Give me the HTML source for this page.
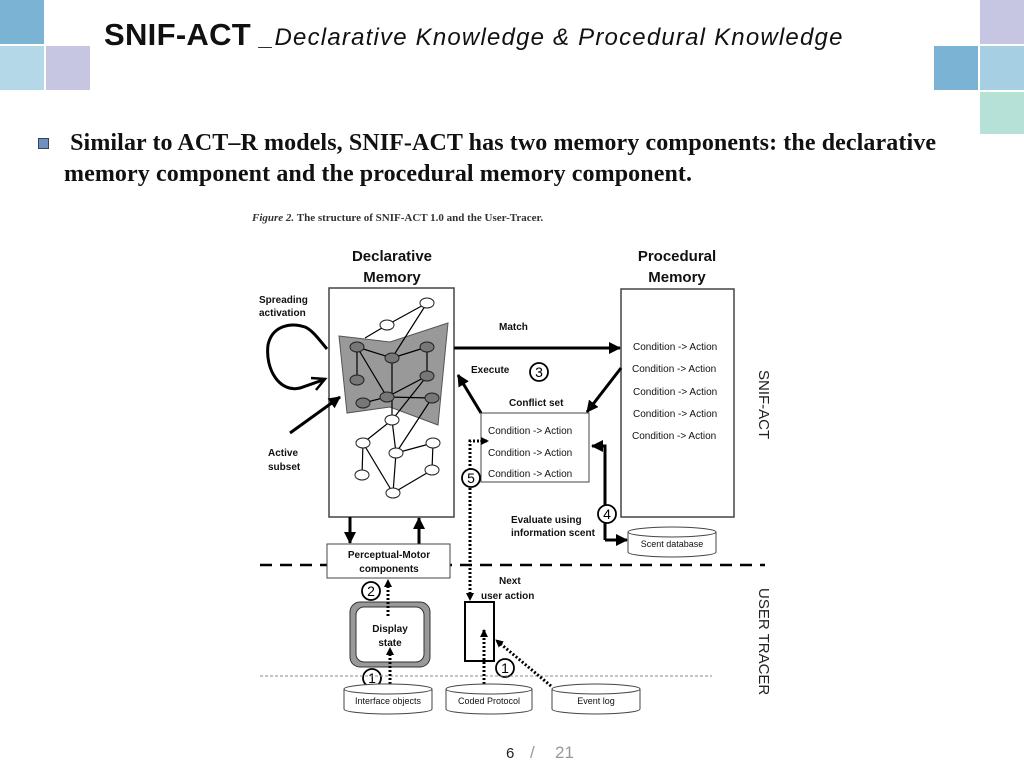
<!DOCTYPE html>
<html><head><meta charset="utf-8"><style>
body{margin:0;width:1024px;height:768px;background:#fff;overflow:hidden;position:relative;font-family:"Liberation Sans",sans-serif}
.sq{position:absolute;width:44px;height:44px}
</style></head><body>
<div class="sq" style="left:0;top:0;background:#7ab3d3"></div>
<div class="sq" style="left:0;top:46px;background:#b5d8e8"></div>
<div class="sq" style="left:46px;top:46px;background:#c6c6e3"></div>
<div class="sq" style="left:980px;top:0;background:#c6c6e3"></div>
<div class="sq" style="left:934px;top:46px;background:#7ab3d3"></div>
<div class="sq" style="left:980px;top:46px;background:#a6cfe3"></div>
<div class="sq" style="left:980px;top:92px;background:#b6e1d6;height:42px"></div>
<div style="position:absolute;left:104px;top:17px;font-size:31px;font-weight:bold;color:#111;white-space:nowrap;letter-spacing:0.3px">SNIF-ACT <span style="font-weight:normal;font-style:italic;font-size:24px;letter-spacing:1.2px">_Declarative Knowledge &amp; Procedural Knowledge</span></div>
<div style="position:absolute;left:38px;top:138px;width:9px;height:9px;background:#6f90c0;border:1px solid #345"></div>
<div style="position:absolute;left:64px;top:128px;font-family:'Liberation Serif',serif;font-weight:bold;font-size:24px;line-height:31px;color:#111;letter-spacing:0.1px;white-space:nowrap">&nbsp;Similar to ACT–R models, SNIF-ACT has two memory components: the declarative<br>memory component and the procedural memory component.</div>
<svg width="1024" height="768" style="position:absolute;left:0;top:0" font-family="Liberation Sans,sans-serif">
<defs><marker id="a" markerWidth="8" markerHeight="8" refX="7" refY="4" orient="auto" markerUnits="userSpaceOnUse"><path d="M0,0L8,4L0,8z" fill="#000"/></marker>
<marker id="b" markerWidth="12" markerHeight="12" refX="11" refY="6" orient="auto" markerUnits="userSpaceOnUse"><path d="M0,0L12,6L0,12z" fill="#000"/></marker></defs>
<text x="252" y="221" font-size="11" font-family="Liberation Serif,serif" font-weight="bold" fill="#333"><tspan font-style="italic">Figure 2.</tspan> The structure of SNIF-ACT 1.0 and the User-Tracer.</text>
<g font-weight="bold" font-size="15" text-anchor="middle" fill="#111"><text x="392" y="261">Declarative</text><text x="392" y="282">Memory</text><text x="677" y="261">Procedural</text><text x="677" y="282">Memory</text></g>
<rect x="329" y="288" width="125" height="229" fill="#fff" stroke="#444" stroke-width="1.5"/>
<rect x="621" y="289" width="113" height="228" fill="#fff" stroke="#444" stroke-width="1.5"/>
<polygon points="339,336 390,342 448,323 438,425 390,407 347,413" fill="#999" stroke="#555"/>
<g stroke="#000" stroke-width="1.2" fill="none">
<path d="M427,303L387,325M387,325L365,338M427,303L392,358M357,347L392,358M392,358L427,347M357,347L387,397M357,347L357,380M392,358L392,420M427,376L387,397M387,397L363,403M387,397L432,398M427,347L427,376M392,420L363,443M392,420L396,453M432,398L396,453M396,453L433,443M433,443L432,470M363,443L362,475M363,443L393,493M396,453L393,493M432,470L393,493M427,376L392,420"/>
</g>
<g stroke="#222" fill="#777"><ellipse cx="357" cy="347" rx="7" ry="5"/><ellipse cx="392" cy="358" rx="7" ry="5"/><ellipse cx="427" cy="347" rx="7" ry="5"/><ellipse cx="357" cy="380" rx="7" ry="5"/><ellipse cx="427" cy="376" rx="7" ry="5"/><ellipse cx="387" cy="397" rx="7" ry="5"/><ellipse cx="363" cy="403" rx="7" ry="5"/><ellipse cx="432" cy="398" rx="7" ry="5"/></g>
<g stroke="#222" fill="#fff"><ellipse cx="427" cy="303" rx="7" ry="5"/><ellipse cx="387" cy="325" rx="7" ry="5"/><ellipse cx="392" cy="420" rx="7" ry="5"/><ellipse cx="363" cy="443" rx="7" ry="5"/><ellipse cx="396" cy="453" rx="7" ry="5"/><ellipse cx="433" cy="443" rx="7" ry="5"/><ellipse cx="362" cy="475" rx="7" ry="5"/><ellipse cx="432" cy="470" rx="7" ry="5"/><ellipse cx="393" cy="493" rx="7" ry="5"/></g>
<path d="M327,349C318,338 312,330 305,327C290,322 272,326 268,345C265,370 280,393 300,388L323,380" fill="none" stroke="#000" stroke-width="3"/>
<path d="M311,378L325,379L316,390" fill="none" stroke="#000" stroke-width="2.5"/>
<g font-size="10" font-weight="bold" fill="#111"><text x="259" y="303">Spreading</text><text x="259" y="316">activation</text><text x="268" y="456">Active</text><text x="268" y="470">subset</text><text x="499" y="330">Match</text><text x="471" y="373">Execute</text><text x="509" y="406">Conflict set</text><text x="511" y="523">Evaluate using</text><text x="511" y="536">information scent</text><text x="499" y="584">Next</text><text x="481" y="599">user action</text></g>
<path d="M290,433L340,397" stroke="#000" stroke-width="3" marker-end="url(#b)"/>
<path d="M454,348L620,348" stroke="#000" stroke-width="3" marker-end="url(#b)"/>
<path d="M621,368L587,412" stroke="#000" stroke-width="3" marker-end="url(#b)"/>
<path d="M481,413L458,375" stroke="#000" stroke-width="3" marker-end="url(#b)"/>
<rect x="481" y="413" width="108" height="69" fill="#fff" stroke="#444"/>
<g font-size="10" fill="#111"><text x="488" y="434">Condition -&gt; Action</text><text x="488" y="456">Condition -&gt; Action</text><text x="488" y="477">Condition -&gt; Action</text>
<text x="633" y="350">Condition -&gt; Action</text><text x="632" y="372">Condition -&gt; Action</text><text x="633" y="395">Condition -&gt; Action</text><text x="633" y="417">Condition -&gt; Action</text><text x="632" y="439">Condition -&gt; Action</text></g>
<path d="M605,540L605,446L592,446" fill="none" stroke="#000" stroke-width="3" marker-end="url(#b)"/>
<path d="M605,540L627,540" stroke="#000" stroke-width="3" marker-end="url(#b)"/>
<path d="M487,441L470,441L470,600" fill="none" stroke="#000" stroke-width="3" stroke-dasharray="2,2" marker-end="url(#a)"/>
<path d="M480,441L488,441" stroke="#000" stroke-width="1" marker-end="url(#a)"/>
<g fill="#fff" stroke="#000" stroke-width="1.8"><circle cx="539" cy="372" r="9"/><circle cx="607" cy="514" r="9"/><circle cx="471" cy="478" r="9"/><circle cx="371" cy="591" r="9"/><circle cx="372" cy="678" r="9"/><circle cx="505" cy="668" r="9"/></g>
<g font-size="14" text-anchor="middle" fill="#000"><text x="539" y="377">3</text><text x="607" y="519">4</text><text x="471" y="483">5</text><text x="371" y="596">2</text><text x="372" y="683">1</text><text x="505" y="673">1</text></g>
<path d="M350,517L350,543" stroke="#000" stroke-width="3" marker-end="url(#b)"/>
<path d="M419,544L419,518" stroke="#000" stroke-width="3" marker-end="url(#b)"/>
<line x1="260" y1="565" x2="765" y2="565" stroke="#000" stroke-width="2.5" stroke-dasharray="12,8"/>
<line x1="260" y1="676" x2="712" y2="676" stroke="#888" stroke-width="1" stroke-dasharray="3,2"/>
<rect x="327" y="544" width="123" height="34" fill="#fff" stroke="#444"/>
<rect x="350" y="602" width="80" height="65" rx="10" fill="#999" stroke="#333"/>
<rect x="356" y="607" width="68" height="55" rx="8" fill="#fff" stroke="#333"/>
<g font-size="10" font-weight="bold" text-anchor="middle" fill="#111"><text x="389" y="558">Perceptual-Motor</text><text x="389" y="572">components</text><text x="390" y="632">Display</text><text x="390" y="646">state</text></g>
<rect x="465" y="602" width="29" height="59" fill="#fff" stroke="#000" stroke-width="2"/>
<path d="M390,688L390,648" stroke="#000" stroke-width="3" stroke-dasharray="2,2" marker-end="url(#a)"/>
<path d="M388,616L388,580" stroke="#000" stroke-width="3" stroke-dasharray="2,2" marker-end="url(#a)"/>
<path d="M484,688L484,630" stroke="#000" stroke-width="3" stroke-dasharray="2,2" marker-end="url(#a)"/>
<path d="M551,686L496,640" stroke="#000" stroke-width="3" stroke-dasharray="2,2" marker-end="url(#a)"/>
<g fill="#fff" stroke="#444">
<path d="M628,532v20a44,5 0 0 0 88,0v-20"/><ellipse cx="672" cy="532" rx="44" ry="5"/>
<path d="M344,689v20a44,5 0 0 0 88,0v-20"/><ellipse cx="388" cy="689" rx="44" ry="5"/>
<path d="M446,689v20a43,5 0 0 0 86,0v-20"/><ellipse cx="489" cy="689" rx="43" ry="5"/>
<path d="M552,689v20a44,5 0 0 0 88,0v-20"/><ellipse cx="596" cy="689" rx="44" ry="5"/></g>
<g font-size="9" text-anchor="middle" fill="#111"><text x="672" y="547">Scent database</text><text x="388" y="704">Interface objects</text><text x="489" y="704">Coded Protocol</text><text x="596" y="704">Event log</text></g>
<g font-size="15" fill="#222"><text transform="translate(759,370) rotate(90)">SNIF-ACT</text><text transform="translate(759,588) rotate(90)">USER TRACER</text></g>
<text x="506" y="758" font-size="15" fill="#222">6</text><text x="530" y="758" font-size="17" fill="#999">/</text><text x="555" y="758" font-size="17" fill="#999">21</text>
</svg>
</body></html>
